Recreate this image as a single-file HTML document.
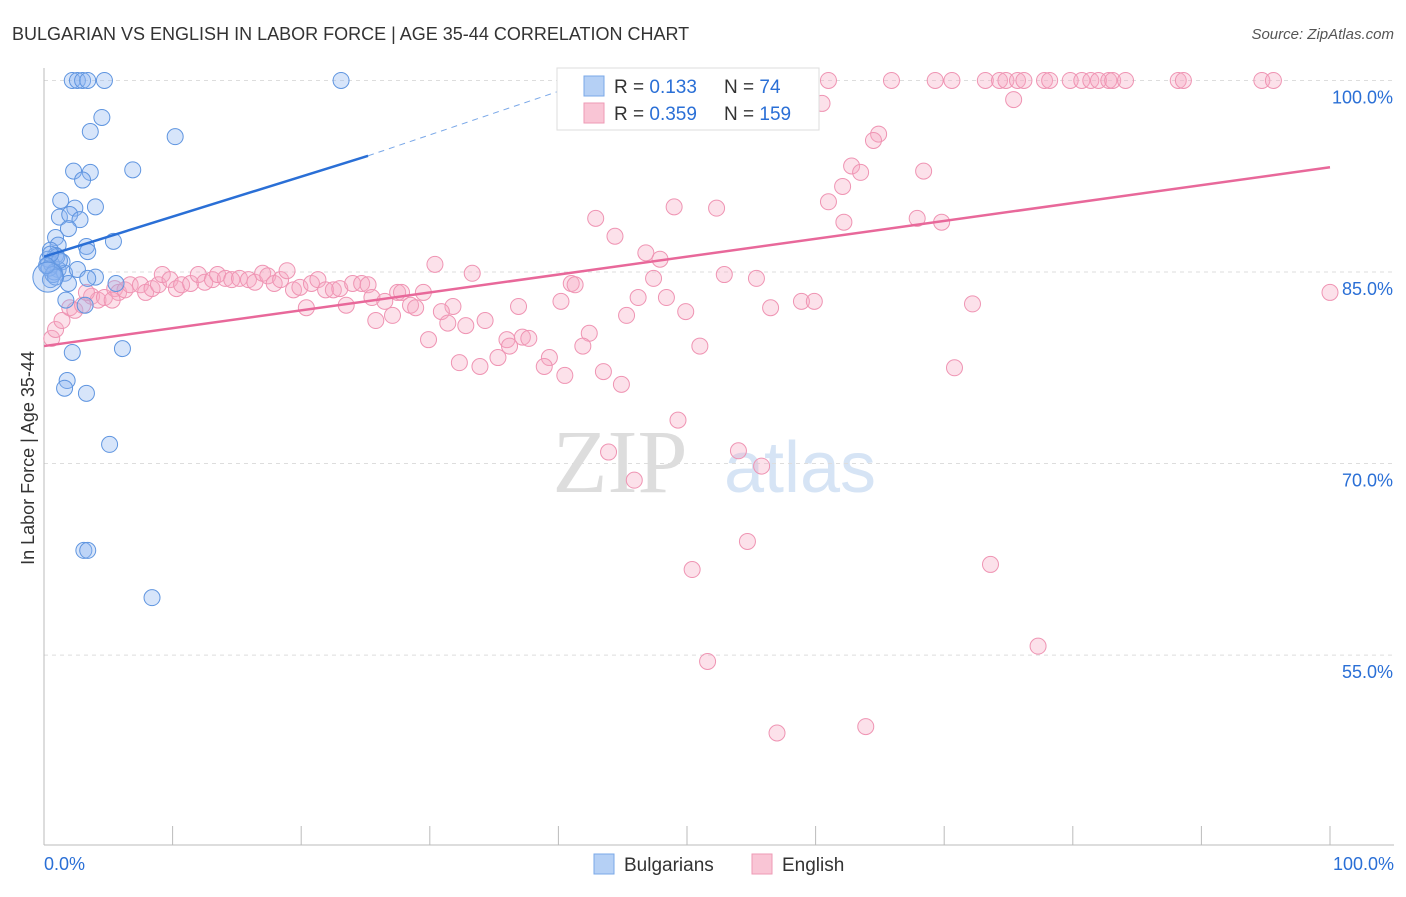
<!DOCTYPE html>
<html><head><meta charset="utf-8"><style>
body{margin:0;background:#fff;font-family:"Liberation Sans",sans-serif}
</style></head><body>
<svg id="chart" width="1406" height="892" xmlns="http://www.w3.org/2000/svg" style="font-family:'Liberation Sans',sans-serif">
<text x="12" y="40" font-size="18" fill="#333">BULGARIAN VS ENGLISH IN LABOR FORCE | AGE 35-44 CORRELATION CHART</text>
<text x="1394" y="39" font-size="15" fill="#555" text-anchor="end" font-style="italic">Source: ZipAtlas.com</text>
<text x="34" y="458" font-size="18" fill="#333" text-anchor="middle" transform="rotate(-90 34 458)">In Labor Force | Age 35-44</text>
<text x="620" y="492" font-size="90" fill="#ddd" font-family="Liberation Serif" text-anchor="middle">ZIP</text>
<text x="800" y="492" font-size="72" fill="#d6e4f5" text-anchor="middle">atlas</text>
<g id="grid"></g><g id="pts"></g><g id="lines"></g>
<g>
<rect x="557" y="68" width="262" height="62" fill="#fff" stroke="#ddd"/>
<rect x="584" y="76" width="20" height="20" fill="#b5d0f5" stroke="#7aa8e8"/>
<rect x="584" y="103" width="20" height="20" fill="#f9c5d5" stroke="#ee9ab5"/>
<text x="614" y="93" font-size="19" fill="#333">R = <tspan fill="#2a6fd6"> 0.133</tspan></text>
<text x="724" y="93" font-size="19" fill="#333">N = <tspan fill="#2a6fd6">  74</tspan></text>
<text x="614" y="120" font-size="19" fill="#333">R = <tspan fill="#2a6fd6">0.359</tspan></text>
<text x="724" y="120" font-size="19" fill="#333">N = <tspan fill="#2a6fd6">159</tspan></text>
</g>
<g>
<rect x="594" y="854" width="20" height="20" fill="#b5d0f5" stroke="#7aa8e8"/>
<text x="624" y="871" font-size="19" fill="#333">Bulgarians</text>
<rect x="752" y="854" width="20" height="20" fill="#f9c5d5" stroke="#ee9ab5"/>
<text x="782" y="871" font-size="19" fill="#333">English</text>
</g>
<text x="44" y="870" font-size="18" fill="#2a6fd6">0.0%</text>
<text x="1394" y="870" font-size="18" fill="#2a6fd6" text-anchor="end">100.0%</text>
</svg>
<script>
const yTicks=[100,85,70,55];
const yTickLabels=["100.0%","85.0%","70.0%","55.0%"];
const blueX=[2.2,2.6,3.0,3.4,4.7,23.1,4.5,3.6,10.2,2.3,3.6,6.9,3.0,1.3,4.0,2.4,1.2,2.0,2.8,1.9,0.9,1.1,3.3,5.4,3.4,0.5,0.9,1.4,0.3,1.1,1.6,2.6,4.0,0.5,1.9,3.4,5.6,1.7,3.2,2.2,6.1,1.8,1.6,3.3,5.1,3.1,3.4,8.4,0.3,0.6,0.8,1.0,0.4,0.7,1.2,0.5,0.9,0.2];
const blueY=[100,100,100,100,100,100,97.1,96.0,95.6,92.9,92.8,93.0,92.2,90.6,90.1,90.0,89.3,89.5,89.1,88.4,87.7,87.1,87.0,87.4,86.6,86.7,86.3,85.8,85.5,85.2,84.9,85.2,84.6,84.4,84.1,84.5,84.1,82.8,82.4,78.7,79.0,76.5,75.9,75.5,71.5,63.2,63.2,59.5,86.0,85.6,85.0,86.2,85.3,84.8,85.9,86.4,84.6,85.5];
const pinkX=[57.5,57.8,61.0,65.9,69.3,70.6,73.2,74.3,74.8,75.7,76.2,77.8,78.2,79.8,80.7,81.4,82.0,82.8,83.1,84.1,88.2,88.6,94.7,95.6,
60.5,75.4,64.9,64.5,62.8,63.5,62.1,68.4,61.0,62.2,67.9,69.8,49.0,52.3,42.9,44.4,46.8,47.9,30.4,33.3,52.9,55.4,47.4,41.0,41.3,46.2,48.4,40.2,49.9,45.3,56.5,58.9,59.9,72.2,100,36.9,31.8,30.9,34.3,32.8,31.4,42.4,36.0,37.2,37.7,29.9,41.9,36.2,51.0,39.3,35.3,32.3,33.9,38.9,40.5,43.5,44.9,70.8,49.3,43.9,54.0,55.8,45.9,54.7,50.4,73.6,77.3,51.6,63.9,57.0,
0.6,0.9,1.4,2.0,2.4,3.0,3.7,4.2,4.7,5.5,5.8,6.3,6.7,7.5,7.9,8.4,8.9,9.2,9.8,10.3,10.7,11.4,12.0,12.5,13.1,13.5,14.1,14.6,15.2,15.9,16.4,17.0,17.4,17.9,18.4,18.9,19.4,19.9,20.4,20.8,21.3,21.9,22.5,23.0,23.5,24.0,24.7,25.2,25.5,25.8,26.5,27.1,27.5,27.8,28.5,28.9,29.5,5.3,3.3];
const pinkY=[100,100,100,100,100,100,100,100,100,100,100,100,100,100,100,100,100,100,100,100,100,100,100,100,
98.2,98.5,95.8,95.3,93.3,92.8,91.7,92.9,90.5,88.9,89.2,88.9,90.1,90.0,89.2,87.8,86.5,86.0,85.6,84.9,84.8,84.5,84.5,84.1,84.0,83.0,83.0,82.7,81.9,81.6,82.2,82.7,82.7,82.5,83.4,82.3,82.3,81.9,81.2,80.8,81.0,80.2,79.7,79.9,79.8,79.7,79.2,79.2,79.2,78.3,78.3,77.9,77.6,77.6,76.9,77.2,76.2,77.5,73.4,70.9,71.0,69.8,68.7,63.9,61.7,62.1,55.7,54.5,49.4,48.9,
79.8,80.5,81.2,82.2,82.0,82.4,83.1,82.8,83.0,83.7,83.4,83.6,84.0,84.0,83.4,83.7,84.0,84.8,84.4,83.7,84.0,84.1,84.8,84.2,84.4,84.8,84.5,84.4,84.5,84.4,84.2,84.9,84.7,84.1,84.4,85.1,83.6,83.8,82.2,84.1,84.4,83.6,83.6,83.7,82.4,84.1,84.1,84.0,83.0,81.2,82.7,81.6,83.4,83.4,82.4,82.2,83.4,82.8,83.4];
const blueTrend=[[0,86.2],[25.2,94.1],[42.5,100]];
const pinkTrend=[[0,79.2],[100,93.2]];
const NS="http://www.w3.org/2000/svg";
const X=v=>44+v*12.86, Y=v=>272-(v-85)*12.77;
function mk(t,a,p){const e=document.createElementNS(NS,t);for(const k in a)e.setAttribute(k,a[k]);p.appendChild(e);return e;}
const grid=document.getElementById('grid');
yTicks.forEach((t,i)=>{
 const l=mk('line',{x1:44,x2:1394,y1:Y(t),y2:Y(t),stroke:'#ddd','stroke-dasharray':'4,4'},grid);
 
 
 const tx=mk('text',{x:1393,y:Y(t)+23,'font-size':18,fill:'#2a6fd6','text-anchor':'end'},grid);
 tx.textContent=yTickLabels[i];
 
 
});
const ax=mk('line',{x1:44,x2:44,y1:68,y2:845,stroke:'#bbb'},grid);


const bx=mk('line',{x1:44,x2:1394,y1:845,y2:845,stroke:'#bbb'},grid);


for(let i=0;i<=10;i++){const t=mk('line',{x1:X(i*10),x2:X(i*10),y1:826,y2:845,stroke:'#bbb'},grid);
 
 }
const pts=document.getElementById('pts');
pinkX.forEach((x,i)=>{const c=mk('circle',{cx:X(x),cy:Y(pinkY[i]),r:8,fill:'rgba(246,170,195,0.35)',stroke:'#ef94b3','stroke-width':1},pts);
 
 });
blueX.forEach((x,i)=>{const c=mk('circle',{cx:X(x),cy:Y(blueY[i]),r:8,fill:'rgba(140,180,240,0.35)',stroke:'#5f95e0','stroke-width':1},pts);
 
 });
const big=mk('circle',{cx:X(0.3),cy:Y(84.6),r:15,fill:'rgba(140,180,240,0.35)',stroke:'#5f95e0'},pts);


const lines=document.getElementById('lines');
const b1=mk('line',{x1:X(blueTrend[0][0]),y1:Y(blueTrend[0][1]),x2:X(blueTrend[1][0]),y2:Y(blueTrend[1][1]),stroke:'#2a6fd6','stroke-width':2.5},lines);


const b2=mk('line',{x1:X(blueTrend[1][0]),y1:Y(blueTrend[1][1]),x2:X(blueTrend[2][0]),y2:Y(blueTrend[2][1]),stroke:'#7aa8e8','stroke-width':1,'stroke-dasharray':'6,5'},lines);


const p1=mk('line',{x1:X(pinkTrend[0][0]),y1:Y(pinkTrend[0][1]),x2:X(pinkTrend[1][0]),y2:Y(pinkTrend[1][1]),stroke:'#e8689a','stroke-width':2.5},lines);


</script>
</body></html>
